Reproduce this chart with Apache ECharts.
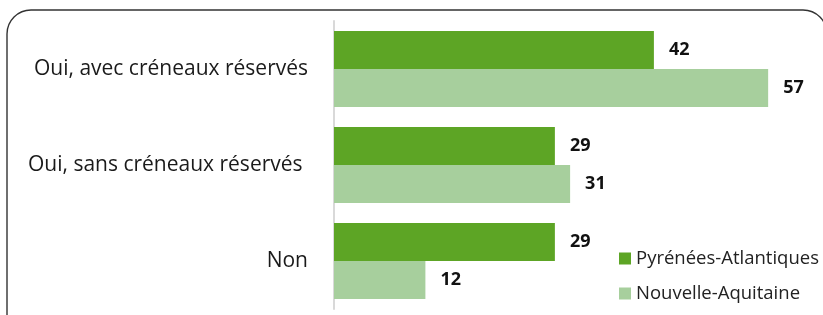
<!DOCTYPE html>
<html>
<head>
<meta charset="utf-8">
<script src="https://cdn.jsdelivr.net/npm/echarts@6/dist/echarts.min.js"></script>
<style>
html,body{margin:0;padding:0;background:#fff;}
#chart{width:823px;height:315px;}
</style>
</head>
<body>
<div id="chart"></div>
<script>
var categories = ['Oui, avec créneaux réservés', 'Oui, sans créneaux réservés ', 'Non'];
var seriesNames = ['Pyrénées-Atlantiques', 'Nouvelle-Aquitaine'];
var pyrenees = [42, 29, 29];
var aquitaine = [57, 31, 12];

var myChart = echarts.init(document.getElementById('chart'));
var labelStyle = {
    show: true,
    position: 'right',
    distance: 15,
    color: '#111',
    fontWeight: 'bold',
    fontSize: 18,
    fontFamily: 'Open Sans',
    padding: [4, 0, 0, 0]
};
var option = {
    animation: false,
    textStyle: { fontFamily: 'Open Sans' },
    // cadre arrondi autour du graphique
    graphic: [{
        type: 'rect',
        shape: { x: 7, y: 10, width: 820, height: 340, r: 24 },
        style: { fill: 'none', stroke: '#333', lineWidth: 1.4 },
        z: -1
    }],
    grid: {
        left: 334,
        top: 21,
        width: 457,
        height: 288
    },
    legend: {
        orient: 'vertical',
        left: 614,
        top: 243,
        itemWidth: 12,
        itemHeight: 12,
        itemGap: 14,
        icon: 'rect',
        textStyle: { fontSize: 18.5, color: '#222', fontFamily: 'Open Sans', lineHeight: 21 },
        data: seriesNames
    },
    xAxis: {
        type: 'value',
        min: 0,
        max: 60,
        show: false
    },
    yAxis: {
        type: 'category',
        inverse: true,
        data: categories,
        axisTick: { show: false },
        axisLine: { lineStyle: { color: '#d9d9d9', width: 2 } },
        axisLabel: {
            margin: 26,
            fontSize: 21,
            color: '#1a1a1a',
            fontFamily: 'Open Sans',
            padding: [10, 0, 0, 0]
        }
    },
    series: [
        {
            name: seriesNames[0],
            type: 'bar',
            data: pyrenees,
            barGap: '0%',
            barCategoryGap: '21%',
            itemStyle: { color: '#5da525' },
            label: labelStyle
        },
        {
            name: seriesNames[1],
            type: 'bar',
            data: aquitaine,
            barGap: '0%',
            barCategoryGap: '21%',
            itemStyle: { color: '#a7cf9d' },
            label: labelStyle
        }
    ]
};
myChart.setOption(option);
</script>
</body>
</html>
